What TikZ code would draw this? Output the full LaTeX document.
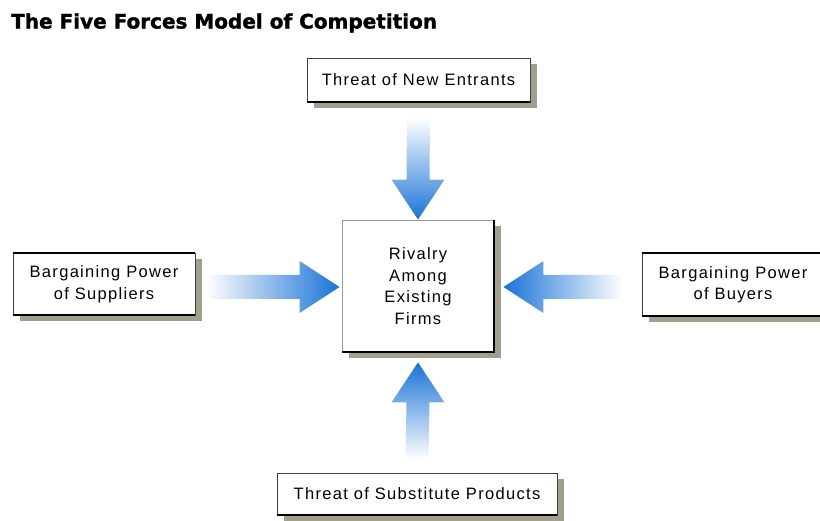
\documentclass[tikz,border=0pt]{standalone}
\usepackage{fontspec}
\setmainfont{Liberation Sans}[LetterSpace=8]
\newfontfamily\titlefont{DejaVu Sans}[BoldFont={DejaVu Sans Bold}, BoldFeatures={FakeBold=1.5}]
\usetikzlibrary{calc,shadows}
\definecolor{arrowblue}{RGB}{25,115,215}
\definecolor{shadowc}{RGB}{160,160,140}
\begin{document}
\begin{tikzpicture}[x=1pt,y=-1pt,
  box/.style={draw=black!75, line width=0.9pt, fill=white, align=center, inner sep=0pt,
    font=\fontsize{16.5}{21.5}\selectfont,
    drop shadow={shadow xshift=7pt, shadow yshift=-6pt, fill=shadowc, opacity=1}},
  thickedge/.style={line width=2pt, black}
]
\useasboundingbox (0,0) rectangle (820,521);
\clip (0,0) rectangle (820,521);

\node[anchor=west, font=\titlefont\bfseries\fontsize{20}{22}\selectfont, inner sep=0pt] (title) at (11,23) {The Five Forces Model of Competition};

\node[box, minimum width=223pt, minimum height=44pt] (top) at (418.5,80) {Threat of New Entrants};
\node[box, minimum width=182pt, minimum height=62pt] (left) at (104,284) {Bargaining Power\\of Suppliers};
\node[box, draw=black!40, minimum width=152pt, minimum height=132pt] (center) at (418,286) {Rivalry\\Among\\Existing\\Firms};
\node[box, minimum width=182pt, minimum height=63pt] (right) at (733,284.5) {Bargaining Power\\of Buyers};
\node[box, minimum width=280pt, minimum height=42pt] (bottom) at (417,494) {Threat of Substitute Products};

\draw[thickedge] (top.south west) -- (top.south east);
\draw[thickedge] (left.north west) -- (left.north east);
\draw[thickedge] (left.south west) -- (left.south east);
\draw[thickedge] (center.north east) -- (center.south east) -- (center.south west);
\draw[thickedge] (right.north west) -- (right.north east);
\draw[thickedge] (right.south west) -- (right.south east);
\draw[thickedge] (bottom.south west) -- (bottom.south east);

% top arrow
\coordinate (ta) at ($(top.south)+(0,15)$);
\coordinate (tb) at (center.north);
\shade[top color=white, bottom color=arrowblue]
  ($(ta)+(-11.5,0)$) -- ($(ta)+(11.5,0)$) -- ($(tb)+(11.5,-40)$) -- ($(tb)+(26.5,-40)$)
  -- (tb) -- ($(tb)+(-26.5,-40)$) -- ($(tb)+(-11.5,-40)$) -- cycle;

% bottom arrow
\coordinate (ba) at ($(bottom.north)+(0,-13)$);
\coordinate (bb) at ($(center.south)+(0,10)$);
\shade[bottom color=white, top color=arrowblue]
  ($(ba)+(-11.5,0)$) -- ($(ba)+(11.5,0)$) -- ($(bb)+(11.5,40)$) -- ($(bb)+(26.5,40)$)
  -- (bb) -- ($(bb)+(-26.5,40)$) -- ($(bb)+(-11.5,40)$) -- cycle;

% left arrow
\coordinate (la) at ($(left.east |- center.west)+(10,1)$);
\coordinate (lb) at ($(center.west)+(-2,1)$);
\shade[left color=white, right color=arrowblue]
  ($(la)+(0,-12)$) -- ($(la)+(0,12)$) -- ($(lb)+(-40,12)$) -- ($(lb)+(-40,26)$)
  -- (lb) -- ($(lb)+(-40,-26)$) -- ($(lb)+(-40,-12)$) -- cycle;

% right arrow
\coordinate (ra) at ($(right.west |- center.east)+(-19,1)$);
\coordinate (rb) at ($(center.east)+(9,1)$);
\shade[right color=white, left color=arrowblue]
  ($(ra)+(0,-12)$) -- ($(ra)+(0,12)$) -- ($(rb)+(40,12)$) -- ($(rb)+(40,26)$)
  -- (rb) -- ($(rb)+(40,-26)$) -- ($(rb)+(40,-12)$) -- cycle;
\end{tikzpicture}
\end{document}
